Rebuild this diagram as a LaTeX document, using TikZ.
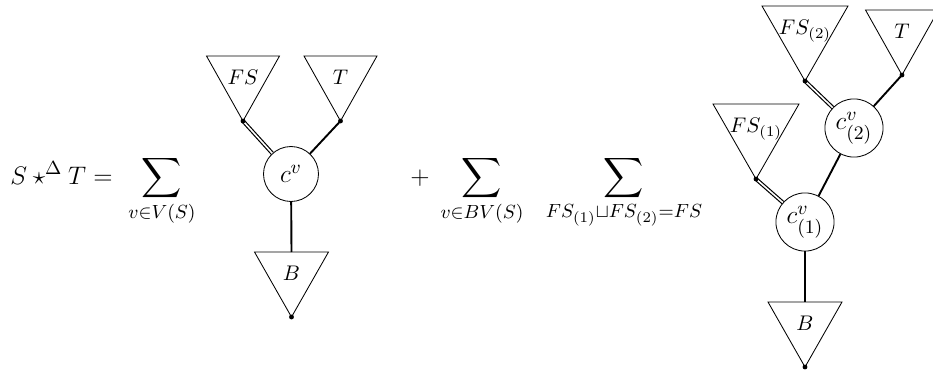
\documentclass[tikz,border=0pt]{standalone}
\usepackage{amsmath,amssymb}
\newcommand\mytri[6]{%
  \draw[tri] (#2-#4,#3) -- (#2+#4,#3) -- (#2,#3+#5) -- cycle;
  \coordinate (#1a) at (#2,#3+#5);
  \coordinate (#1t) at (#2,#3);
  \node[lbl] (#1l) at (#2,#3+#5/3) {#6};
}
\newcommand\bigfont{\fontsize{13.2}{16}\selectfont}
\begin{document}
\begin{tikzpicture}[x=0.473pt,y=-0.473pt,
  tri/.style={draw, line width=0.4pt},
  lbl/.style={inner sep=0pt},
  conn/.style={line width=0.9pt},
  dconn/.style={double, line width=0.55pt, double distance=0.75pt},
  vtx/.style={circle, draw, line width=0.4pt, minimum size=26pt, inner sep=0pt, font=\bigfont},
  vtxb/.style={vtx, minimum size=27.5pt},
  dotn/.style={circle, fill, inner sep=0pt, minimum size=2.3pt},
  eqn/.style={inner sep=0pt, anchor=base, font=\bigfont}]
\useasboundingbox (0,0) rectangle (933,371);
% equation
\node[eqn, anchor=base west] (lhs) at (10,184) {$S\star^{\Delta}T=$};
\node[eqn] (sum1) at (162,184) {$\displaystyle\sum_{v\in V(S)}$};
\node[eqn] (plus) at (420,184) {$+$};
\node[eqn] (sum2) at (482,184) {$\displaystyle\sum_{v\in BV(S)}$};
\node[eqn] (sum3) at (624,184) {$\displaystyle\sum_{FS_{(1)}\sqcup FS_{(2)}=FS}$};
% left tree
\mytri{fs}{243}{56}{36.5}{65}{$FS$}
\mytri{t}{340.5}{56}{36.5}{65}{$T$}
\mytri{b}{291.5}{252}{37}{65}{$B$}
\node[vtx] (cv) at (291,174) {$c^v$};
\draw[dconn] (fsa) -- (cv);
\draw[conn] (ta) -- (cv);
\draw[conn] (cv) -- (bt);
\node[dotn] (d1) at (fsa) {};
\node[dotn] (d2) at (ta) {};
\node[dotn] (d3) at (ba) {};
% right tree
\mytri{fsb}{805}{6}{43}{75}{$FS_{(2)}$}
\mytri{tb}{902}{10}{36.5}{65}{$T$}
\mytri{fsc}{756}{104}{43}{75}{$FS_{(1)}$}
\mytri{bb}{805}{302}{37}{65}{$B$}
\node[vtxb] (c2) at (854,128) {$c^v_{(2)}$};
\node[vtxb] (c1) at (805,222) {$c^v_{(1)}$};
\draw[dconn] (fsba) -- (c2);
\draw[conn] (tba) -- (c2);
\draw[conn] (c2) -- (c1);
\draw[dconn] (fsca) -- (c1);
\draw[conn] (c1) -- (bbt);
\node[dotn] (d4) at (fsba) {};
\node[dotn] (d5) at (tba) {};
\node[dotn] (d6) at (fsca) {};
\node[dotn] (d7) at (bba) {};
\end{tikzpicture}
\end{document}
